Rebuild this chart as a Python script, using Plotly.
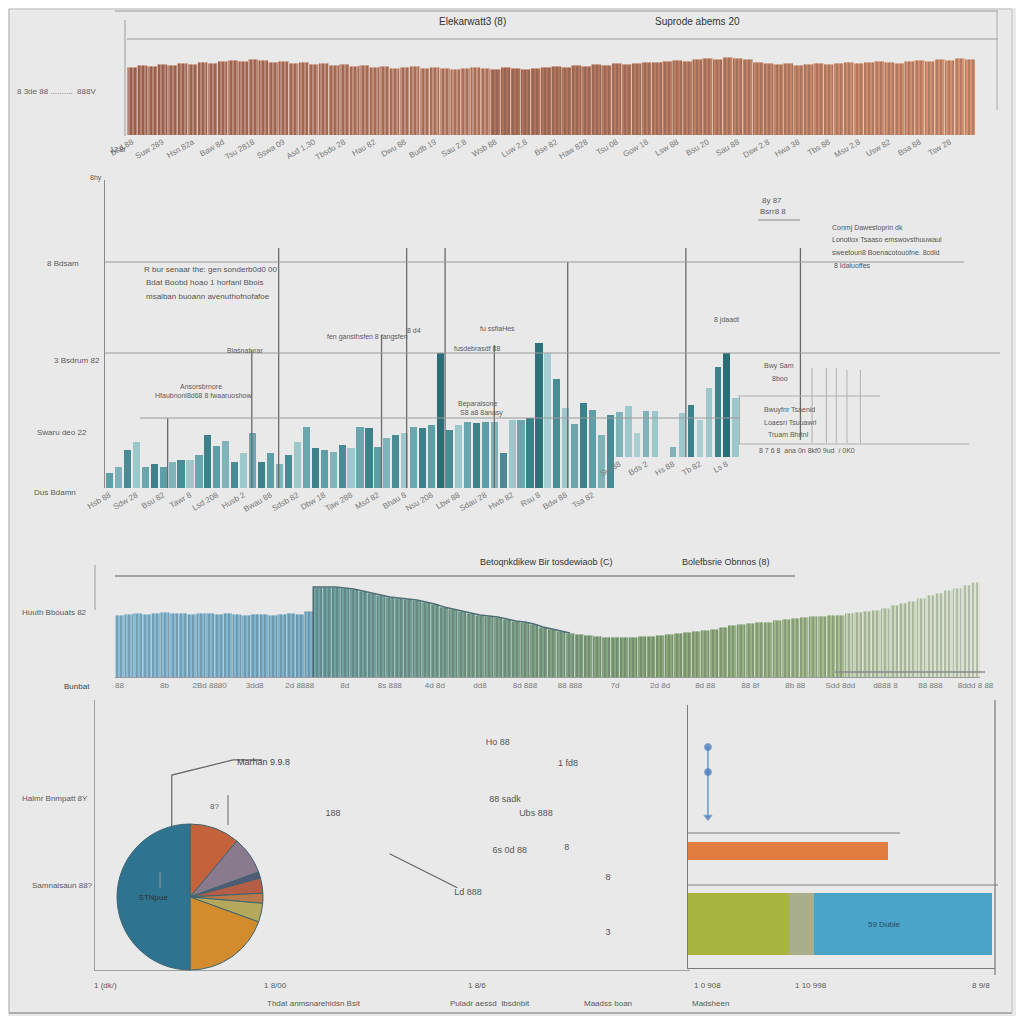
import plotly.graph_objects as go

OFF = 8           # page body margin
W = 1008          # figure size so that figure + body margin fills 1024 window
def X(p): return (p - OFF) / W
def Y(p): return 1 - (p - OFF) / W

# ---------------- DATA ----------------
# Panel 1 (brown bars)
top_vals = [68,70,69,71,70,72,71,73,72,74,75,74,
            76,75,73,74,72,73,71,72,70,71,
            69,70,68,69,67,68,69,67,68,67,
            66,67,68,67,66,68,67,66,67,68,
            69,68,70,69,71,70,72,71,72,73,
            73,74,75,74,76,77,76,78,77,76,
            73,72,71,72,70,71,72,71,72,73,
            72,73,74,73,72,74,75,74,76,75,77,76]
top_ticks = ["Bsd 88","Suw 289","Hsn 82a","Baw 8d","Tsu 2818","Sswa 09","Asd 1,30","Tbsdu 28",
             "Hau 82","Dwu 88","Budb 19","Sau 2.8","Wsb 88","Luw 2,8","Bse 82","Haw 828",
             "Tsu 08","Gow 18","Lsw 88","Bsu 20","Sau 88","Dsw 2.8","Hwa 38","Tbs 88",
             "Msu 2,8","Usw 82","Bsa 88","Tsw 28"]

# Panel 2 (teal bars)
mid_vals = [15,21,38,46,21,24,21,26,28,28,33,53,42,47,26,35,55,26,35,24,33,46,61,40,38,36,43,40,
            61,60,41,50,53,55,61,60,63,
            135,
            58,63,66,65,66,66,35,68,68,70,
            145,
            135,109,80,64,85,78,53,73]
mid_ticks = ["Hsb 88","Sdw 28","Bsu 82","Tawr 8","Lsd 208","Husb 2","Bwau 88","Sdsb 82","Dbw 18",
             "Taw 288","Msd 82","Bhau 8","Nsu 208","Lbw 88","Sdau 28","Hwb 82","Rsu 8","Bdw 88","Tsa 82"]
side_vals = [45,51,24,46,46,0,10,44,52,37,69,90,104,59]
side_ticks = ["Sw 88","Bds 2","Hs 88","Tb 82","Ls 8"]

callout_x = [7.0, 16.4, 19.4, 30.9, 33.7, 38.0, 43.5, 51.7, 64.9, 77.7]
callout_top = [70, 138, 240, 153, 240, 240, 143, 226, 240, 240]
callout_base = [0, 0, 0, 0, 0, 0, 0, 0, 31, 48]
ref_levels = [226, 135, 70]
ref_start = [0, 0, 3.9]
ref_end = [96, 100, 71]
inset_x = [79.0, 80.6, 81.7, 82.9, 84.4]
inset_top = [120, 120, 120, 118, 118]
inset_base = 45

# Panel 3 (blue-green bars)
wave_vals = [62,63,64,63,64,65,64,64,63,64,64,63,64,63,62,63,63,62,63,64,63,66,
             90,90,90,89,88,86,84,82,80,79,78,77,75,73,70,68,66,64,62,61,60,58,56,55,
             53,50,48,46,44,43,42,41,40,40,40,40,41,41,42,43,44,45,46,47,48,50,52,53,
             54,55,55,57,58,59,60,61,61,62,62,64,65,66,67,69,72,74,76,79,82,84,87,89,92,95]
wave_ticks = ["88","8b","2Bd 8880","3dd8","2d 8888","8d","8s 888","4d 8d","dd8","8d 888",
              "88 888","7d","2d 8d","8d 88","88 8f","8b 88","Sdd 8dd","d888 8","88 888","8ddd 8 88"]

# Pie
pie_labels = ["Rust", "Mauve", "Slate", "Brick", "Umber", "Olive", "Amber", "STNpue"]
pie_values = [40, 30, 5, 12, 8, 15, 70, 180]
pie_text = ["", "", "", "", "", "", "", "STNpue"]

# Scatter text labels (bottom middle)
lbl_x = [67.7, 79.5, 68.9, 40.0, 74.1, 69.7, 79.3, 62.7, 86.2, 86.2]
lbl_y = [84.1, 76.3, 63.0, 57.8, 57.8, 44.1, 45.2, 28.5, 34.1, 13.7]
lbl_text = ["Ho 88", "1 fd8", "88 sadk", "188", "Ubs 888", "6s 0d 88", "8", "Ld 888", "8", "3"]
pie_call_x = [12.9, 12.9, 23.2, 28.1]
pie_call_y = [51.9, 72.2, 77.8, 77.8]

# Right-bottom bars
orange_val = [65]
orange_pos = [44.5]
stack_names = ["Green", "Sage", "Blue"]
stack_vals = [33, 8, 58]
stack_pos = [16.7]
dot_x = [6.5, 6.5, 6.5]
dot_y = [84, 74.5, 57.4]

# ---------------- STYLE HELPERS ----------------
def hex2rgb(h):
    h = h.lstrip('#')
    return tuple(int(h[i:i+2], 16) for i in (0, 2, 4))

def grad(stops, n):
    out = []
    for i in range(n):
        for k in range(len(stops) - 1):
            a, ca = stops[k]
            b, cb = stops[k + 1]
            if a <= i <= b:
                t = 0 if b == a else (i - a) / (b - a)
                r1, g1, b1 = hex2rgb(ca); r2, g2, b2 = hex2rgb(cb)
                out.append('rgb(%d,%d,%d)' % (r1 + (r2 - r1) * t, g1 + (g2 - g1) * t, b1 + (b2 - b1) * t))
                break
    return out

GRAY = '#8a8a8a'
TXT = '#5a5a5a'
FONT = 'Liberation Sans'
stripes = dict(shape='|', fgcolor='rgba(255,255,255,0.28)', size=4, solidity=0.25, fillmode='overlay')

fig = go.Figure()

# Panel 1
n1 = len(top_vals)
fig.add_trace(go.Bar(x=list(range(n1)), y=top_vals, xaxis='x', yaxis='y', width=1.0,
                     marker=dict(color=grad([(0, '#9c5e4a'), (40, '#b2725a'), (n1 - 1, '#d8926f')], n1),
                                 line=dict(width=0.6, color='rgba(240,215,200,0.8)'), pattern=stripes)))

# Panel 2 main
shade = ['#5e9ea6', '#7fb3b9', '#4a8c95', '#9cc7cb', '#6aa6ad', '#3f818a']
c2 = [shade[i % len(shade)] for i in range(len(mid_vals))]
c2[37] = '#2b6e78'; c2[48] = '#2b727a'; c2[49] = '#a6cdd1'
fig.add_trace(go.Bar(x=list(range(len(mid_vals))), y=mid_vals, xaxis='x2', yaxis='y2', width=0.8,
                     marker=dict(color=c2, line=dict(width=0))))
c3 = [shade[(i * 2 + 1) % len(shade)] for i in range(len(side_vals))]
c3[12] = '#2b6e78'; c3[9] = '#a9cfd3'; c3[2] = '#a9cfd3'
fig.add_trace(go.Bar(x=list(range(len(side_vals))), y=side_vals, xaxis='x3', yaxis='y3', width=0.7,
                     marker=dict(color=c3, line=dict(width=0))))

# Callouts & reference lines (overlay axis x4/y4)
cx, cy = [], []
for xv, t, b in zip(callout_x, callout_top, callout_base):
    cx += [xv, xv, None]; cy += [b, t, None]
fig.add_trace(go.Scatter(x=cx, y=cy, xaxis='x4', yaxis='y4', mode='lines',
                         line=dict(color='#6a6a6a', width=1.3), hoverinfo='skip'))
rx, ry = [], []
for lv, s, e in zip(ref_levels, ref_start, ref_end):
    rx += [s, e, None]; ry += [lv, lv, None]
fig.add_trace(go.Scatter(x=rx, y=ry, xaxis='x4', yaxis='y4', mode='lines',
                         line=dict(color='#9a9a9a', width=1), hoverinfo='skip'))
ix, iy = [], []
for xv, t in zip(inset_x, inset_top):
    ix += [xv, xv, None]; iy += [inset_base, t, None]
ix += [70.7, 86.6, None, 70.7, 96.6, None, 70.9, 70.9]
iy += [92, 92, None, 44, 44, None, 92, 44]
fig.add_trace(go.Scatter(x=ix, y=iy, xaxis='x4', yaxis='y4', mode='lines',
                         line=dict(color='#b0b0b0', width=1), hoverinfo='skip'))

# Panel 3
n3 = len(wave_vals)
fig.add_trace(go.Bar(x=list(range(n3)), y=wave_vals, xaxis='x5', yaxis='y5', width=1.0,
                     marker=dict(color=grad([(0, '#88bfdb'), (21, '#7db3cf'), (22, '#6da2a4'), (45, '#7fa48a'),
                                             (60, '#8aa878'), (80, '#a8bf90'), (81, '#c3d4b2'), (n3 - 1, '#dce4d0')], n3),
                                 line=dict(width=0.5, color='rgba(225,236,230,0.8)'), pattern=stripes)))
ox = [21.5, 21.5] + list(range(22, 51))
oy = [0, wave_vals[22]] + wave_vals[22:51]
fig.add_trace(go.Scatter(x=ox, y=oy, xaxis='x5', yaxis='y5', mode='lines',
                         line=dict(color='#4d6f74', width=1.5), hoverinfo='skip'))

# Bottom-left: pie + labels
fig.add_trace(go.Pie(labels=pie_labels, values=pie_values, text=pie_text, textinfo='text',
                     sort=False, direction='clockwise', rotation=0,
                     domain=dict(x=[X(117), X(263)], y=[Y(970), Y(824)]),
                     marker=dict(colors=['#c4623c', '#8a7a8e', '#4f5a78', '#b45e48', '#b87a4a', '#b4a85c', '#d28c2e', '#2e7490'],
                                 line=dict(color='#3f6470', width=1)),
                     textfont=dict(size=8, color='#333', family=FONT), textposition='inside',
                     insidetextorientation='horizontal', showlegend=False))
fig.add_trace(go.Scatter(x=lbl_x, y=lbl_y, text=lbl_text, xaxis='x6', yaxis='y6', mode='text',
                         textfont=dict(size=9, color='#555', family=FONT), hoverinfo='skip'))
fig.add_trace(go.Scatter(x=pie_call_x, y=pie_call_y, xaxis='x6', yaxis='y6', mode='lines',
                         line=dict(color='#666', width=1.2), hoverinfo='skip'))

# Right-bottom bars
fig.add_trace(go.Bar(y=orange_pos, x=orange_val, orientation='h', xaxis='x7', yaxis='y7', width=6.5,
                     marker=dict(color='#e27d40', line=dict(width=0))))
for name, v, col in zip(stack_names, stack_vals, ['#a7b53e', '#a9ae8a', '#4aa3c9']):
    fig.add_trace(go.Bar(y=stack_pos, x=[v], name=name, orientation='h', xaxis='x7', yaxis='y7', width=23.6,
                         marker=dict(color=col, line=dict(width=0))))
fig.add_trace(go.Scatter(x=dot_x, y=dot_y, xaxis='x7', yaxis='y7', mode='lines+markers',
                         line=dict(color='#4a86c8', width=1.2),
                         marker=dict(size=[7, 7, 7], symbol=['circle', 'circle', 'triangle-down'], color='#3a6fb0'),
                         hoverinfo='skip'))

# ---------------- LAYOUT ----------------
hid = dict(showgrid=False, zeroline=False, showticklabels=False, ticks='', showline=False)
tickf = dict(size=8, color='#7a7a7a', family=FONT)

layout = dict(
    width=W, height=W, margin=dict(l=0, r=0, t=0, b=0, autoexpand=False),
    paper_bgcolor='#e9e9e9', plot_bgcolor='rgba(0,0,0,0)', showlegend=False,
    barmode='stack', bargap=0.1,
    font=dict(family=FONT, size=9, color=TXT),
    xaxis=dict(domain=[X(127), X(975)], anchor='y', range=[-0.5, n1 - 0.5], showgrid=False, zeroline=False,
               tickvals=list(range(0, n1, 3)), ticktext=top_ticks, tickangle=-30, tickfont=tickf, ticks=''),
    yaxis=dict(domain=[Y(135), Y(40)], anchor='x', range=[0, 95], **hid),
    xaxis2=dict(domain=[X(105), X(615)], anchor='y2', range=[-0.5, len(mid_vals) - 0.5], showgrid=False,
                zeroline=False, tickvals=list(range(0, len(mid_vals), 3)), ticktext=mid_ticks, tickangle=-30,
                tickfont=tickf, ticks=''),
    yaxis2=dict(domain=[Y(488), Y(180)], anchor='x2', range=[0, 308], showgrid=False, zeroline=False,
                showticklabels=False, ticks='', showline=True, linecolor=GRAY, linewidth=1),
    xaxis3=dict(domain=[X(615), X(740)], anchor='y3', range=[-0.5, len(side_vals) - 0.5], showgrid=False,
                zeroline=False, tickvals=list(range(0, len(side_vals), 3)), ticktext=side_ticks, tickangle=-30,
                tickfont=tickf, ticks=''),
    yaxis3=dict(domain=[Y(457), Y(149)], anchor='x3', range=[0, 308], **hid),
    xaxis4=dict(domain=[X(105), X(1000)], anchor='y4', range=[0, 100], **hid),
    yaxis4=dict(domain=[Y(488), Y(180)], anchor='x4', range=[0, 308], **hid),
    xaxis5=dict(domain=[X(115), X(980)], anchor='y5', range=[-0.5, n3 - 0.5], showgrid=False, zeroline=False,
                tickvals=list(range(0, n3, 5)), ticktext=wave_ticks, tickangle=0, tickfont=tickf, ticks='',
                showline=True, linecolor='#9a9a9a'),
    yaxis5=dict(domain=[Y(677), Y(577)], anchor='x5', range=[0, 100], **hid),
    xaxis6=dict(domain=[X(95), X(690)], anchor='y6', range=[0, 100], showgrid=False, zeroline=False,
                showticklabels=False, ticks='', showline=True, linecolor='#a0a0a0'),
    yaxis6=dict(domain=[Y(970), Y(700)], anchor='x6', range=[0, 100], showgrid=False, zeroline=False,
                showticklabels=False, ticks='', showline=True, linecolor='#a0a0a0'),
    xaxis7=dict(domain=[X(688), X(995)], anchor='y7', range=[0, 100], showgrid=False, zeroline=False,
                showticklabels=False, ticks='', showline=True, linecolor='#7a7a7a', mirror=False),
    yaxis7=dict(domain=[Y(968), Y(705)], anchor='x7', range=[0, 100], showgrid=False, zeroline=False,
                showticklabels=False, ticks='', showline=True, linecolor='#7a7a7a'),
)
fig.update_layout(**layout)

# decorative frame lines (paper)
def pl(x0, y0, x1, y1, color='#a8a8a8', w=1):
    fig.add_shape(type='line', xref='paper', yref='paper', x0=X(x0), y0=Y(y0), x1=X(x1), y1=Y(y1),
                  line=dict(color=color, width=w))

pl(9, 9, 1012, 9, '#c0c0c0'); pl(9, 1013, 1012, 1013, '#9a9a9a', 1.5)
pl(9, 9, 9, 1013, '#b0b0b0'); pl(1012, 9, 1012, 1013, '#c0c0c0')
pl(115, 11, 998, 11, '#9a9a9a'); pl(127, 39, 998, 39, '#9a9a9a')
pl(125, 20, 125, 136, '#9a9a9a'); pl(997, 11, 997, 110, '#aaaaaa')
pl(115, 576, 795, 576, '#8a8a8a', 1.3); pl(95, 565, 95, 610, '#9a9a9a')
pl(835, 672, 985, 672, '#8a8a8a', 1.3)
pl(995, 700, 995, 975, '#7a7a7a', 1.2)
pl(688, 833, 900, 833, '#7a7a7a'); pl(688, 885, 998, 885, '#7a7a7a')
pl(228, 795, 228, 825, '#666'); pl(160, 872, 160, 888, '#999')
pl(758, 220, 800, 220, '#888')

anns = []
def ann(px, py, text, size=9, color=TXT, anchor='left', angle=0):
    anns.append(dict(xref='paper', yref='paper', x=X(px), y=Y(py), text=text, showarrow=False,
                     xanchor=anchor, yanchor='middle', textangle=angle,
                     font=dict(size=size, color=color, family=FONT)))

ann(437, 22, 'Elekarwatt3 (8)', 10, '#333'); ann(653, 22, 'Suprode abems 20', 10, '#333')
ann(15, 91, '8 3de 88 ..........  888V', 8, '#666')
ann(108, 150, '12 8f', 7); ann(88, 178, '8hy', 7)
ann(45, 263, '8 Bdsam', 8); ann(52, 360, '3 Bsdrum 82', 8); ann(35, 432, 'Swaru deo 22', 8)
ann(32, 492, 'Dus Bdamn', 8)
ann(142, 270, 'R bur senaar the: gen sonderb0d0 00', 8, '#555')
ann(144, 283, 'Bdat Boobd hoao 1 horfanl Bbois', 8, '#555')
ann(144, 296, 'msalban buoann avenuthofnofafoe', 8, '#555')
ann(830, 228, 'Conmj Dawestoprin dk', 7, '#555')
ann(830, 240, 'Lonotlox Tsaaso emswovsthuuwaul', 7, '#555')
ann(830, 252, 'sweetoun8 Boenacotouofne. 8cdld', 7, '#555')
ann(832, 265, '8 Idaiuoffes', 7, '#555')
ann(760, 200, '8y 87', 8); ann(758, 212, 'Bsrr8 8', 8)
ann(325, 337, 'fen gansthsfen 8 fangsfen', 7); ann(405, 330, '8 d4', 7)
ann(478, 328, 'fu ssfiaHes', 7); ann(452, 348, 'fusdebrasdf 88', 7)
ann(225, 350, 'Blasnaturar', 7); ann(178, 386, 'Ansorsbrnore', 7)
ann(153, 396, 'Hfaubnonl8d68 8 fwaaruoshow', 7)
ann(456, 404, 'Beparalsone', 7); ann(458, 413, 'S8 a8 8anasy', 7)
ann(712, 320, '8 jdaadt', 7); ann(762, 366, 'Bwy Sam', 7); ann(770, 378, '8boo', 7)
ann(762, 410, 'Bwuyfnr Tsaenid', 7); ann(762, 422, 'Loaesri Tsuuawrl', 7); ann(766, 434, 'Truam Bhrtnl', 7)
ann(757, 450, '8 7 6 8  ana 0n 8kf0 9ud  / 0K0', 7)
ann(478, 562, 'Betoqnkdikew Bir tosdewiaob (C)', 9, '#333'); ann(680, 562, 'Bolefbsrie Obnnos (8)', 9, '#333')
ann(20, 612, 'Huuth Bbouats 82', 8); ann(62, 686, 'Bunbat', 8, '#444')
ann(20, 798, 'Halmr Bnmpatt 8Y', 8); ann(30, 885, 'Samnalsaun 88?', 8)
ann(235, 762, 'Marhan 9.9.8', 9, '#444'); ann(208, 806, '8?', 8)
ann(92, 985, '1 (dk/)', 8); ann(262, 985, '1 8/00', 8); ann(466, 985, '1 8/6', 8)
ann(692, 985, '1 0 908', 8); ann(793, 985, '1 10 998', 8); ann(970, 985, '8 9/8', 8)
ann(265, 1003, 'Thdat anmsnarehidsn Bsit', 8); ann(448, 1003, 'Puladr aessd  Ibsdnbit', 8)
ann(582, 1003, 'Maadss boan', 8); ann(690, 1003, 'Madsheen', 8)
anns.append(dict(xref='x7', yref='y7', x=64, y=16.7, text='59 Duble', showarrow=False,
                 font=dict(size=8, color='#2d4a5a', family=FONT)))
anns.append(dict(xref='x6', yref='y6', x=62.7, y=28.5, ax=-80, ay=-40, text='', showarrow=True,
                 arrowhead=0, arrowwidth=1.2, arrowcolor='#666', standoff=12))
fig.update_layout(annotations=anns)

fig.write_html('out.html')
